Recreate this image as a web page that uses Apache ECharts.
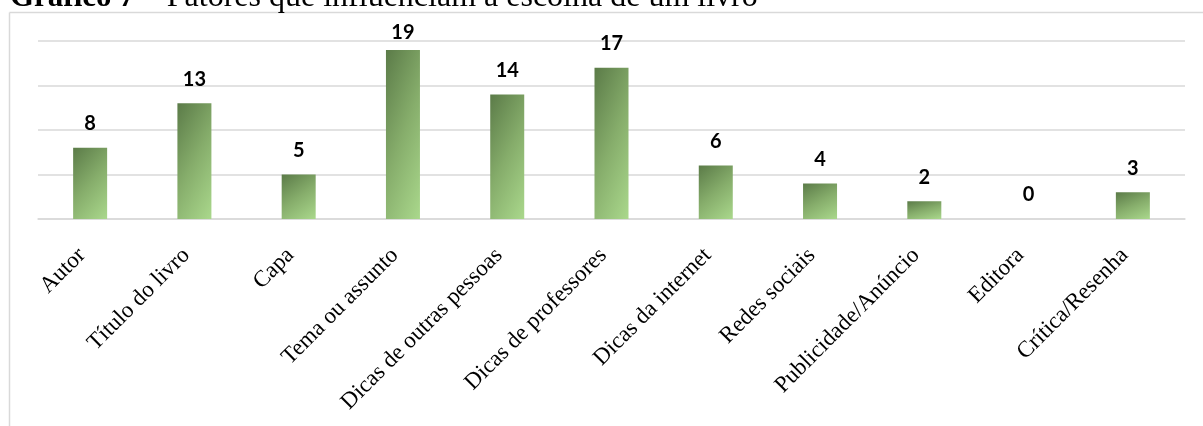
<!DOCTYPE html>
<html>
<head>
<meta charset="utf-8">
<script src="https://cdn.jsdelivr.net/npm/echarts@6/dist/echarts.min.js"></script>
<style>
html,body{margin:0;padding:0;background:#fff;}
#c{width:1203px;height:426px;}
</style>
</head>
<body>
<div id="c"></div>
<script>
const categories = ['Autor','Título do livro','Capa','Tema ou assunto','Dicas de outras pessoas','Dicas de professores','Dicas da internet','Redes sociais','Publicidade/Anúncio','Editora','Crítica/Resenha'];
const values = [8, 13, 5, 19, 14, 17, 6, 4, 2, 0, 3];
const yTicks = [0, 5, 10, 15, 20];
const titleBold = 'Gráfico 7';
const titleRest = ' – Fatores que influenciam a escolha de um livro';

const BAR_W = 34;
const chart = echarts.init(document.getElementById('c'), null, {renderer: 'canvas'});

function shapeGradient(w, h) {
  // diagonal gradient, top-left dark -> bottom-right light;
  // colour parameter t = A*u + B*v in the bar's own (u,v) box coordinates
  const A = 0.35, B = 0.65;
  if (w <= 0 || h <= 0) return '#86ad6b';
  const k = A * A / (w * w) + B * B / (h * h);
  const x2 = A / (w * w * k);
  const y2 = B / (h * h * k);
  return new echarts.graphic.LinearGradient(0, 0, x2, y2, [
    {offset: 0, color: '#5b7b48'},
    {offset: 0.5, color: '#86ad6b'},
    {offset: 1, color: '#aad88c'}
  ]);
}

const maxV = Math.max.apply(null, values);
function buildData() {
  const base = chart.convertToPixel({yAxisIndex: 0}, 0);
  return values.map(function (v) {
    const h = Math.abs(base - chart.convertToPixel({yAxisIndex: 0}, v));
    const item = {value: v, itemStyle: {color: shapeGradient(BAR_W, h)}};
    if (v === maxV) item.label = {distance: 7};
    return item;
  });
}

chart.setOption({
  animation: false,
  backgroundColor: '#ffffff',
  grid: {left: 38, right: 18, top: 41, bottom: 207, containLabel: false},
  xAxis: {
    type: 'category',
    data: categories,
    axisTick: {show: false},
    axisLine: {show: true, lineStyle: {color: '#d9d9d9', width: 1.5}},
    axisLabel: {
      interval: 0,
      rotate: 45,
      margin: 41,
      verticalAlign: 'bottom',
      align: 'right',
      fontFamily: 'Liberation Serif',
      fontSize: 23,
      color: '#000000'
    }
  },
  yAxis: {
    type: 'value',
    min: yTicks[0],
    max: yTicks[yTicks.length - 1],
    interval: yTicks[1] - yTicks[0],
    axisLabel: {show: false},
    axisLine: {show: false},
    axisTick: {show: false},
    splitLine: {show: true, lineStyle: {color: '#d9d9d9', width: 1.5}}
  },
  series: [{
    type: 'bar',
    data: values,
    barWidth: BAR_W,
    itemStyle: {color: '#86ad6b'},
    label: {
      show: true,
      position: 'top',
      distance: 14,
      fontFamily: 'Lato',
      fontWeight: 'bold',
      fontSize: 20,
      color: '#000000'
    }
  }],
  graphic: [
    {type: 'line', shape: {x1: 9.5, y1: 12.5, x2: 1203, y2: 12.5}, style: {stroke: '#d9d9d9', lineWidth: 1.5}, silent: true},
    {type: 'line', shape: {x1: 9.5, y1: 12.5, x2: 9.5, y2: 426}, style: {stroke: '#d9d9d9', lineWidth: 1.5}, silent: true},
    {
      type: 'text', left: 10, top: -18,
      style: {
        text: '{b|' + titleBold + '}{r|' + titleRest + '}',
        rich: {
          b: {fontFamily: 'Liberation Serif', fontWeight: 'bold', fontSize: 31, fill: '#000'},
          r: {fontFamily: 'Liberation Serif', fontSize: 32, fill: '#000'}
        }
      }
    }
  ]
});
chart.setOption({series: [{data: buildData()}]});
</script>
</body>
</html>
